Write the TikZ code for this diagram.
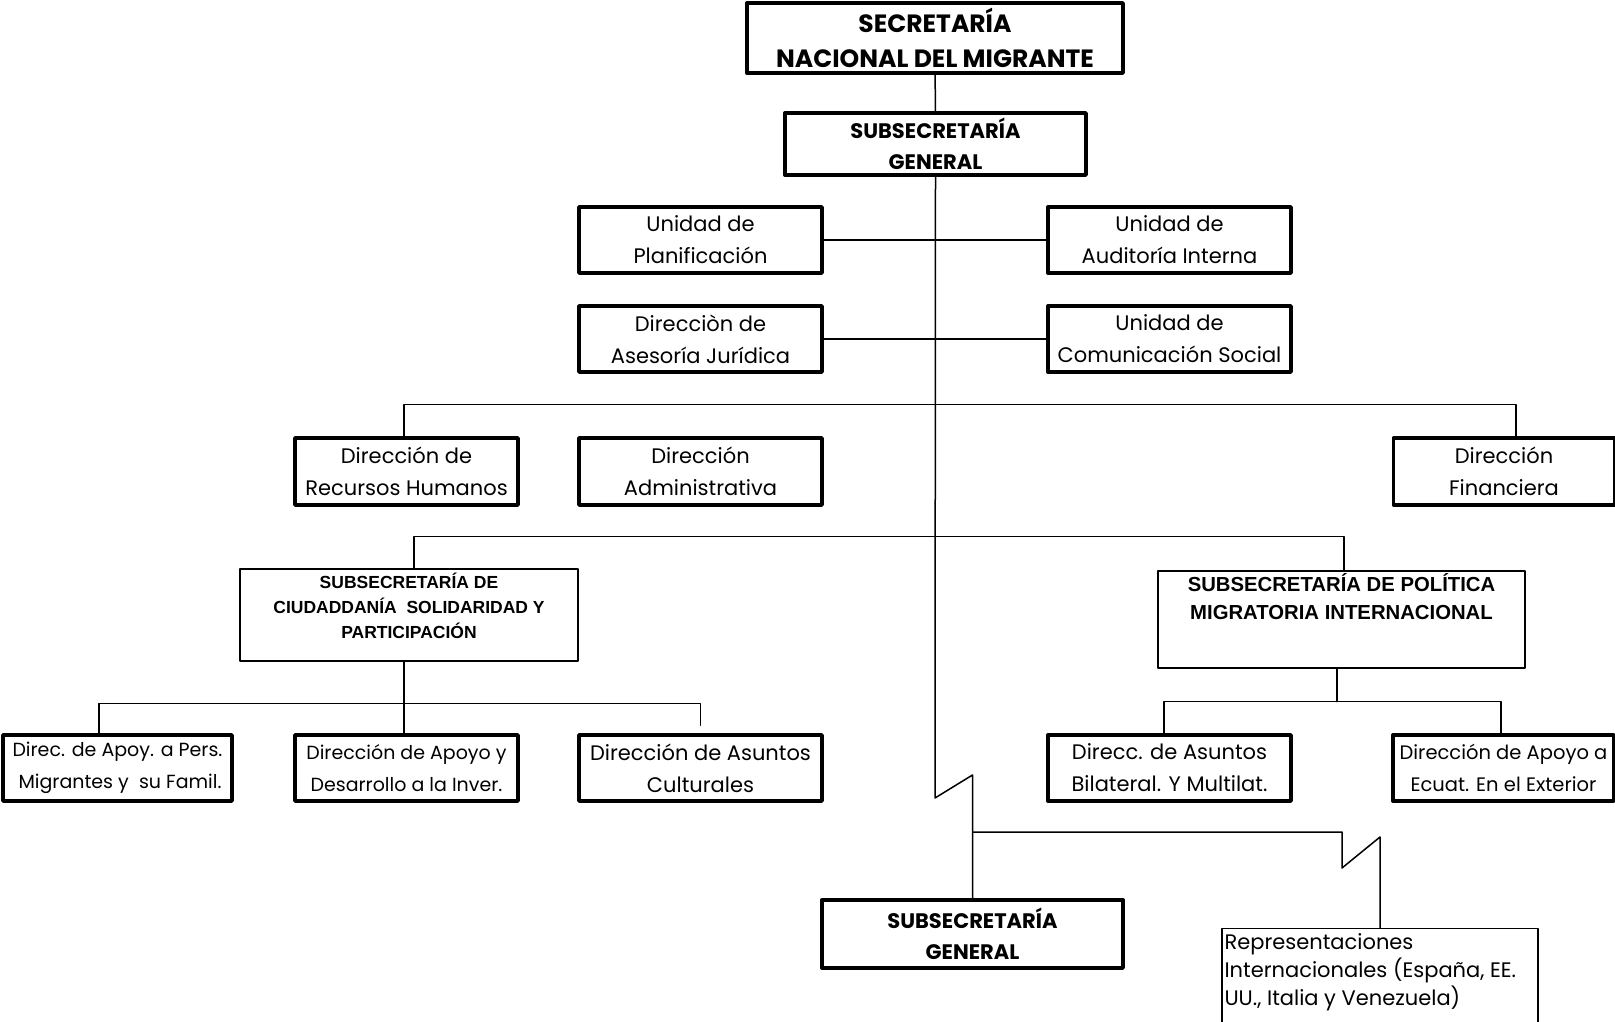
\documentclass[tikz,border=0pt]{standalone}
\usepackage{fontspec}
\newfontfamily\gothic{Poppins}
\newfontfamily\arial{Liberation Sans}
\begin{document}
\begin{tikzpicture}[x=1pt,y=-1pt,line cap=round,line join=round,
	caja/.style={draw,line width=3.4pt,inner sep=0pt,align=center,minimum height=66pt,font={\gothic\fontsize{21}{32}\selectfont}},
	cajab/.style={caja,font={\gothic\bfseries\fontsize{21}{31}\selectfont}},
	cajac/.style={caja,font={\gothic\fontsize{19}{32}\selectfont}},
	cajaf/.style={draw,line width=1.3pt,inner sep=0pt},
	linea/.style={line width=1.5pt}]
	\useasboundingbox (0,0) rectangle (1615,1022);
	\node[cajab,minimum width=376pt,minimum height=70pt,font={\gothic\bfseries\fontsize{25}{35}\selectfont}] (top) at (935,38) {SECRETARÍA\\NACIONAL DEL MIGRANTE};
	\node[cajab,minimum width=301pt,minimum height=62pt] (subgen) at (935.5,144) {SUBSECRETARÍA\\GENERAL};
	\node[caja,minimum width=243pt] (plan) at (700.5,240) {Unidad de\\Planificación};
	\node[caja,minimum width=243pt] (audit) at (1169.5,240) {Unidad de\\Auditoría Interna};
	\node[caja,minimum width=243pt] (juri) at (700.5,339) {Direcciòn de\\Asesoría Jurídica};
	\node[caja,minimum width=243pt] (comu) at (1169.5,339) {Unidad de\\Comunicación Social};
	\node[caja,minimum width=223pt,minimum height=67pt] (rrhh) at (406.5,471.5) {Dirección de\\Recursos Humanos};
	\node[caja,minimum width=243pt,minimum height=67pt] (admin) at (700.5,471.5) {Dirección\\Administrativa};
	\node[caja,minimum width=221pt,minimum height=67pt] (finan) at (1504,471.5) {Dirección\\Financiera};
	\node[cajaf,minimum width=338pt,minimum height=92pt] (subciu) at (409,615) {};
	\node[anchor=north,align=center,inner sep=0pt,font={\arial\bfseries\fontsize{17.5}{25}\selectfont}] (subciutxt) at ([yshift=-4pt]subciu.north) {SUBSECRETARÍA DE\\CIUDADDANÍA\ \ SOLIDARIDAD Y\\PARTICIPACIÓN};
	\node[cajaf,minimum width=367pt,minimum height=97pt] (subpol) at (1341.5,619.5) {};
	\node[anchor=north,align=center,inner sep=0pt,font={\arial\bfseries\fontsize{20.3}{28}\selectfont}] (subpoltxt) at ([yshift=-3pt]subpol.north) {SUBSECRETARÍA DE POLÍTICA\\MIGRATORIA INTERNACIONAL};
	\node[cajac,minimum width=229pt] (apoypers) at (117.5,768) {Direc. de Apoy. a Pers.\\\ Migrantes y\ \ su Famil.};
	\node[cajac,minimum width=223pt] (apoyinv) at (406.5,768) {Dirección de Apoyo y\\Desarrollo a la Inver.};
	\node[caja,minimum width=243pt] (cultur) at (700.5,768) {Dirección de Asuntos\\Culturales};
	\node[caja,minimum width=243pt] (bilat) at (1169.5,768) {Direcc. de Asuntos\\Bilateral. Y Multilat.};
	\node[cajac,minimum width=221pt,font={\gothic\fontsize{19.5}{32}\selectfont}] (ecuat) at (1503.5,768) {Dirección de Apoyo a\\Ecuat. En el Exterior};
	\node[cajab,minimum width=301pt,minimum height=68pt] (subgen2) at (972.5,934) {SUBSECRETARÍA\\GENERAL};
	\node[cajaf,minimum width=316pt,minimum height=100pt,anchor=north] (repre) at (1380,928) {};
	\node[anchor=north west,align=left,inner sep=0pt,font={\gothic\fontsize{21}{28}\selectfont}] (repretxt) at ([xshift=3pt,yshift=-5pt]repre.north west) {Representaciones\\Internacionales (España, EE.\\UU., Italia y Venezuela)};
	\coordinate (q1) at (935,798);
	\coordinate (q2) at (972.5,775);
	\coordinate (r0) at (972.5,832);
	\coordinate (r1) at (1342,832);
	\coordinate (r2) at (1342,868);
	\coordinate (r3) at (1380,837);
	\draw[linea] (top) -- (subgen);
	\draw[linea] (subgen.south) -- (q1) -- (q2) -- (subgen2.north);
	\draw[linea] (plan.east) -- (audit.west);
	\draw[linea] (juri.east) -- (comu.west);
	\draw[linea] ([xshift=-2.5pt]rrhh.north) -- ++(0,-32) -| ([xshift=12pt]finan.north);
	\draw[linea] ([xshift=5pt]subciu.north) -- ++(0,-32) -| ([xshift=2.5pt]subpol.north);
	\draw[linea] ([xshift=-5pt]subciu.south) -- ++(0,42) coordinate (cb);
	\draw[linea] (cb) -| ([xshift=-18.5pt]apoypers.north);
	\draw[linea] (cb) -| ([xshift=-2.5pt]apoyinv.north);
	\draw[linea] (cb) -| ([yshift=8pt]cultur.north);
	\draw[linea] ([xshift=-4.5pt]subpol.south) -- ++(0,33) coordinate (pb);
	\draw[linea] (pb) -| ([xshift=-5.5pt]bilat.north);
	\draw[linea] (pb) -| ([xshift=-2.5pt]ecuat.north);
	\draw[linea] (r0) -- (r1) -- (r2) -- (r3) -- (repre.north);
\end{tikzpicture}
\end{document}
